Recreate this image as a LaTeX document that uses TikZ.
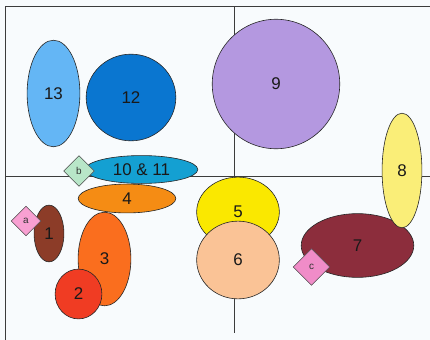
\documentclass[tikz,border=0pt]{standalone}
\usepackage{fontspec}
\setmainfont{Liberation Sans}
\usetikzlibrary{positioning, shapes.geometric}
\definecolor{bluethirteen}{RGB}{100,182,245}
\definecolor{bluetwelve}{RGB}{10,118,208}
\definecolor{lilac}{RGB}{180,152,224}
\definecolor{paleyellow}{RGB}{250,238,120}
\definecolor{cyanblue}{RGB}{20,160,210}
\definecolor{mint}{RGB}{184,230,200}
\definecolor{orangefour}{RGB}{245,140,20}
\definecolor{pinka}{RGB}{248,160,210}
\definecolor{brownone}{RGB}{140,60,40}
\definecolor{orangethree}{RGB}{250,110,30}
\definecolor{redtwo}{RGB}{240,60,35}
\definecolor{yellowfive}{RGB}{250,232,0}
\definecolor{peach}{RGB}{250,195,150}
\definecolor{wine}{RGB}{140,45,60}
\definecolor{pinkc}{RGB}{240,140,200}
\definecolor{framegray}{RGB}{60,60,60}
\definecolor{paper}{RGB}{248,251,253}

\begin{document}
\begin{tikzpicture}[
    x=1bp, y=-1bp,
    blob/.style={ellipse, draw=black!85, line width=0.6pt, inner sep=0pt,
        font=\fontsize{17}{20}\selectfont, text=black!90},
    tag/.style={diamond, draw=black!70, line width=0.5pt, inner sep=0pt,
        font=\fontsize{10}{12}\selectfont, text=black!80},
    axis/.style={draw=framegray, line width=0.8pt}
]
    \useasboundingbox (0,0) rectangle (430,340);
    \fill[paper] (0,0) rectangle (430,340);

    % frame and axes
    \coordinate (tl) at (5,6);
    \coordinate (tr) at (430,6);
    \coordinate (bl) at (5,340);
    \coordinate (hl) at (5,176);
    \coordinate (hr) at (430,176);
    \coordinate (vt) at (234,6);
    \coordinate (vb) at (234,333);
    \draw[axis] (bl) -- (tl) -- (tr);
    \draw[axis] (hl) -- (hr);
    \draw[axis] (vt) -- (vb);

    \node[blob, fill=bluethirteen, minimum width=53, minimum height=107] (n13) at (53.5,93.5) {13};
    \node[blob, fill=bluetwelve, minimum width=90, minimum height=87] (n12) at (131,97.5) {12};
    \node[blob, fill=lilac, minimum width=128, minimum height=130] (n9) at (276,84) {9};
    \node[blob, fill=cyanblue, minimum width=113, minimum height=28] (n1011) at (141.5,169.5) {10 \& 11};
    \node[blob, fill=orangefour, minimum width=98, minimum height=29] (n4) at (127,198.5) {4};
    \node[blob, fill=brownone, minimum width=30, minimum height=57] (n1) at (49,233.5) {1};
    \node[blob, fill=orangethree, minimum width=53, minimum height=94] (n3) at (104.5,259) {3};
    \node[blob, fill=redtwo, minimum width=47, minimum height=50] (n2) at (78.5,294) {2};
    \node[blob, fill=yellowfive, minimum width=83, minimum height=70] (n5) at (238,212) {5};
    \node[blob, fill=peach, minimum width=83, minimum height=78] (n6) at (238,260) {6};
    \node[blob, fill=wine, minimum width=113, minimum height=64] (n7) at (357.5,245.5) {7};
    \node[blob, fill=paleyellow, minimum width=40, minimum height=115] (n8) at (402,170.5) {8};

    \node[tag, fill=mint, minimum size=31] (b) at (79,171) {b};
    \node[tag, fill=pinka, minimum size=30] (a) at (26,221) {a};
    \node[tag, fill=pinkc, minimum size=37] (c) at (311.5,267) {c};
\end{tikzpicture}
\end{document}
